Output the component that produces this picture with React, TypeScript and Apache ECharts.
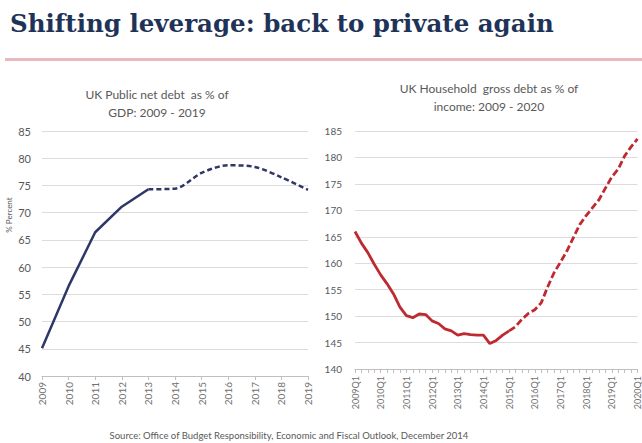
import React, { useEffect, useRef } from "react";
import * as echarts from "echarts";

const publicYears = ["2009", "2010", "2011", "2012", "2013", "2014", "2015", "2016", "2017", "2018", "2019"];
const publicDebt = [45.1, 56.5, 66.4, 71.1, 74.3, 74.4, 77.3, 78.7, 78.4, 76.5, 74.2];
const publicLastActual = 4; // index of 2013

const householdYears = ["2009", "2010", "2011", "2012", "2013", "2014", "2015", "2016", "2017", "2018", "2019", "2020"];
const householdQuarters = ["Q1", "Q2", "Q3", "Q4"];
const householdDebt = [
  166.0, 163.8, 162.0, 159.8, 157.8, 156.1, 154.2, 151.7,
  150.1, 149.7, 150.4, 150.3, 149.1, 148.6, 147.6, 147.2,
  146.4, 146.7, 146.5, 146.4, 146.4, 144.8, 145.4, 146.4,
  147.2, 148.0, 149.4, 150.5, 151.2, 152.5, 155.5, 158.2,
  160.2, 162.3, 164.8, 167.3, 169.0, 170.5, 172.0, 174.2,
  176.3, 177.8, 180.3, 182.0, 183.5,
];
const householdLastActual = 24;

const titleText = "Shifting leverage: back to private again";
const leftTitle = ["UK Public net debt  as % of", "GDP: 2009 - 2019"];
const rightTitle = ["UK Household  gross debt as % of", "income: 2009 - 2020"];
const sourceText = "Source: Office of Budget Responsibility, Economic and Fiscal Outlook, December 2014";

const NAVY = "#2e3768";
const RED = "#bf2a30";
const GREY = "#595959";
const GRID = "#dcdcdc";
const FONT = "Lato";

export default function App() {
  const ref = useRef<HTMLDivElement>(null);
  useEffect(() => {
    if (!ref.current) return;
    const chart = echarts.init(ref.current, null, { renderer: "svg" });

    const quarterCats: string[] = [];
    householdYears.forEach((y) => householdQuarters.forEach((q) => quarterCats.push(y + q)));
    const cats = quarterCats.slice(0, householdDebt.length);

    const pubSolid = publicDebt.map((v, i) => (i <= publicLastActual ? v : null));
    const pubDash = publicDebt.map((v, i) => (i >= publicLastActual ? v : null));
    const hhSolid = householdDebt.map((v, i) => (i <= householdLastActual ? v : null));
    const hhDash = householdDebt.map((v, i) => (i >= householdLastActual ? v : null));

    const axisLabel = { color: GREY, fontFamily: FONT, fontSize: 11 };

    chart.setOption({
      animation: false,
      backgroundColor: "#ffffff",
      grid: [
        { left: 42, right: 334, top: 131, bottom: 67 },
        { left: 355, right: 2, top: 131, bottom: 74 },
      ],
      xAxis: [
        {
          type: "category",
          gridIndex: 0,
          data: publicYears,
          boundaryGap: false,
          axisLine: { lineStyle: { color: "#bfbfbf" } },
          axisTick: { show: true, length: 4, lineStyle: { color: "#bfbfbf" } },
          axisLabel: { ...axisLabel, color: "#707070", fontSize: 10, rotate: 90, margin: 6, interval: 0 },
        },
        {
          type: "category",
          gridIndex: 1,
          data: cats,
          boundaryGap: false,
          axisLine: { lineStyle: { color: "#bfbfbf" } },
          axisTick: { show: true, interval: 0, length: 4, lineStyle: { color: "#bfbfbf" } },
          axisLabel: { ...axisLabel, color: "#707070", fontSize: 9, rotate: 90, margin: 7, interval: 3 },
        },
      ],
      yAxis: [
        {
          type: "value",
          gridIndex: 0,
          min: 40,
          max: 85,
          interval: 5,
          axisLine: { show: false },
          axisTick: { show: false },
          splitLine: { lineStyle: { color: GRID, width: 1 } },
          axisLabel: { ...axisLabel, margin: 11 },
        },
        {
          type: "value",
          gridIndex: 1,
          min: 140,
          max: 185,
          interval: 5,
          axisLine: { show: false },
          axisTick: { show: false },
          splitLine: { lineStyle: { color: GRID, width: 1 } },
          axisLabel: { ...axisLabel, fontSize: 10, margin: 13 },
        },
      ],
      series: [
        {
          type: "line",
          xAxisIndex: 0,
          yAxisIndex: 0,
          data: pubSolid,
          showSymbol: false,
          lineStyle: { color: NAVY, width: 2.5 },
        },
        {
          type: "line",
          xAxisIndex: 0,
          yAxisIndex: 0,
          data: pubDash,
          showSymbol: false,
          smooth: 0.3,
          lineStyle: { color: NAVY, width: 2.5, type: [5, 3] },
        },
        {
          type: "line",
          xAxisIndex: 1,
          yAxisIndex: 1,
          data: hhSolid,
          showSymbol: false,
          lineStyle: { color: RED, width: 2.8 },
        },
        {
          type: "line",
          xAxisIndex: 1,
          yAxisIndex: 1,
          data: hhDash,
          showSymbol: false,
          lineStyle: { color: RED, width: 2.8, type: [7, 3] },
        },
      ],
      graphic: [
        {
          type: "text",
          left: 10,
          top: 11,
          style: {
            text: titleText,
            fill: "#1f3358",
            font: "bold 24.5px 'DejaVu Serif', 'Liberation Serif', serif",
          },
        },
        {
          type: "rect",
          shape: { x: 5, y: 58, width: 637, height: 3 },
          style: { fill: "#e8b9bd" },
        },
        {
          type: "text",
          x: 157,
          y: 85,
          style: {
            text: leftTitle.join("\n"),
            fill: GREY,
            font: `12px ${FONT}`,
            align: "center",
            lineHeight: 18,
          },
        },
        {
          type: "text",
          x: 489,
          y: 79,
          style: {
            text: rightTitle.join("\n"),
            fill: GREY,
            font: `12px ${FONT}`,
            align: "center",
            lineHeight: 18,
          },
        },
        {
          type: "text",
          x: 9,
          y: 215,
          rotation: Math.PI / 2,
          style: {
            text: "% Percent",
            fill: GREY,
            font: `8px ${FONT}`,
            align: "center",
            verticalAlign: "middle",
          },
        },
        {
          type: "text",
          x: 289,
          y: 430,
          style: {
            text: sourceText,
            fill: GREY,
            font: `9.5px ${FONT}`,
            align: "center",
          },
        },
      ],
    });
    return () => chart.dispose();
  }, []);
  return <div ref={ref} style={{ width: 642, height: 443, position: "absolute", left: 0, top: 0 }} />;
}
